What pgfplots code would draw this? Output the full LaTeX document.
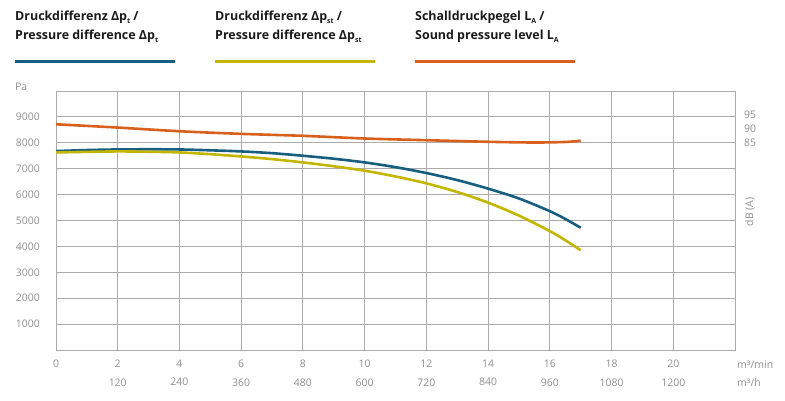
\documentclass[border=0pt]{standalone}
\usepackage{fontspec}
\setmainfont{Open Sans}
\usepackage{pgfplots}
\pgfplotsset{compat=1.18}
\definecolor{cblue}{HTML}{175E80}
\definecolor{colive}{HTML}{C3B600}
\definecolor{corange}{HTML}{D9601C}
\definecolor{cgrid}{HTML}{ABABAB}
\definecolor{ctext}{HTML}{8E8E8E}
\definecolor{clegend}{HTML}{1A1A1A}
\newcommand{\sub}[1]{\raisebox{-0.45ex}{\fontsize{7}{8}\selectfont #1}}

\begin{document}
\begin{tikzpicture}[x=1bp,y=1bp]
\useasboundingbox (0,0) rectangle (785,400);
\begin{axis}[
  at={(56bp,50bp)}, anchor=south west, scale only axis,
  width=679bp, height=259bp,
  xmin=0, xmax=22, ymin=0, ymax=10000,
  xtick={0,2,4,6,8,10,12,14,16,18,20},
  xticklabels={0,{2\\120},{4\\240},{6\\360},{8\\480},{10\\600},{12\\720},{14\\840},{16\\960},{18\\1080},{20\\1200}},
  ytick={1000,2000,3000,4000,5000,6000,7000,8000,9000},
  yticklabels={1000,2000,3000,4000,5000,6000,7000,8000,9000},
  scaled y ticks=false, scaled x ticks=false,
  grid=major,
  major grid style={cgrid, line width=0.9bp},
  axis line style={cgrid, line width=0.9bp},
  major tick length=0pt,
  /pgf/number format/assume math mode=true,
  xticklabel style={align=center, font=\fontsize{10.5}{18.3}\selectfont, text=ctext, anchor=north, inner sep=0pt, yshift=-10bp},
  yticklabel style={font=\fontsize{10.5}{12}\selectfont, text=ctext, anchor=east, inner sep=0pt, xshift=-16bp},
]
\addplot[cblue, line width=2.6bp, smooth] coordinates {
(0,7680) (1,7720) (2,7743) (3,7750) (4,7743) (5,7710) (6,7667) (7,7600) (8,7500) (9,7385) (10,7243) (11,7060) (12,6833) (13,6560) (14,6230) (15,5850) (16,5360) (16.5,5060) (17,4720)};
\addplot[colive, line width=2.6bp, smooth] coordinates {
(0,7628) (1,7650) (2,7667) (3,7655) (4,7628) (5,7560) (6,7473) (7,7370) (8,7243) (9,7095) (10,6923) (11,6700) (12,6435) (13,6100) (14,5690) (15,5190) (16,4590) (16.5,4240) (17,3850)};
\end{axis}
\begin{axis}[
  at={(56bp,50bp)}, anchor=south west, scale only axis,
  width=679bp, height=259bp,
  xmin=0, xmax=22, ymin=10.7, ymax=103.57,
  hide x axis, axis y line*=right,
  axis line style={draw=none},
  ytick={85,90,95}, yticklabels={85,90,95},
  major tick length=0pt,
  /pgf/number format/assume math mode=true,
  yticklabel style={font=\fontsize{10.5}{12}\selectfont, text=ctext, anchor=west, inner sep=0pt, xshift=9bp},
]
\addplot[corange, line width=2.6bp, smooth] coordinates {
(0,91.64) (2,90.46) (4,89.14) (6,88.2) (8,87.5) (10,86.54) (12,85.93) (14,85.36) (15.5,85.1) (16.5,85.3) (17,85.75)};
\end{axis}
% axis annotations
\node[anchor=west, inner sep=0pt, text=ctext, font=\fontsize{10.5}{12}\selectfont] at (15,313.3) {Pa};
\node[anchor=west, inner sep=0pt, text=ctext, font=\fontsize{10.5}{12}\selectfont] at (737,35.3) {m³/min};
\node[anchor=west, inner sep=0pt, text=ctext, font=\fontsize{10.5}{12}\selectfont] at (737,17) {m³/h};
\node[rotate=90, inner sep=0pt, text=ctext, font=\fontsize{10.5}{12}\selectfont] at (750,188) {dB (A)};
% legend
\begin{scope}[font=\bfseries\fontsize{12.5}{15}\selectfont, text=clegend]
\node[anchor=base west, inner sep=0pt] at (15,379.3) {Druckdifferenz Δp\sub{t} /};
\node[anchor=base west, inner sep=0pt] at (15,361) {Pressure difference Δp\sub{t}};
\node[anchor=base west, inner sep=0pt] at (215,379.3) {Druckdifferenz Δp\sub{st} /};
\node[anchor=base west, inner sep=0pt] at (215,361) {Pressure difference Δp\sub{st}};
\node[anchor=base west, inner sep=0pt] at (415,379.3) {Schalldruckpegel L\sub{A} /};
\node[anchor=base west, inner sep=0pt] at (415,361) {Sound pressure level L\sub{A}};
\end{scope}
\draw[cblue, line width=2.5bp] (15,338.7) -- (175,338.7);
\draw[colive, line width=2.5bp] (215,338.7) -- (375,338.7);
\draw[corange, line width=2.5bp] (415,338.7) -- (575,338.7);
\end{tikzpicture}
\end{document}
